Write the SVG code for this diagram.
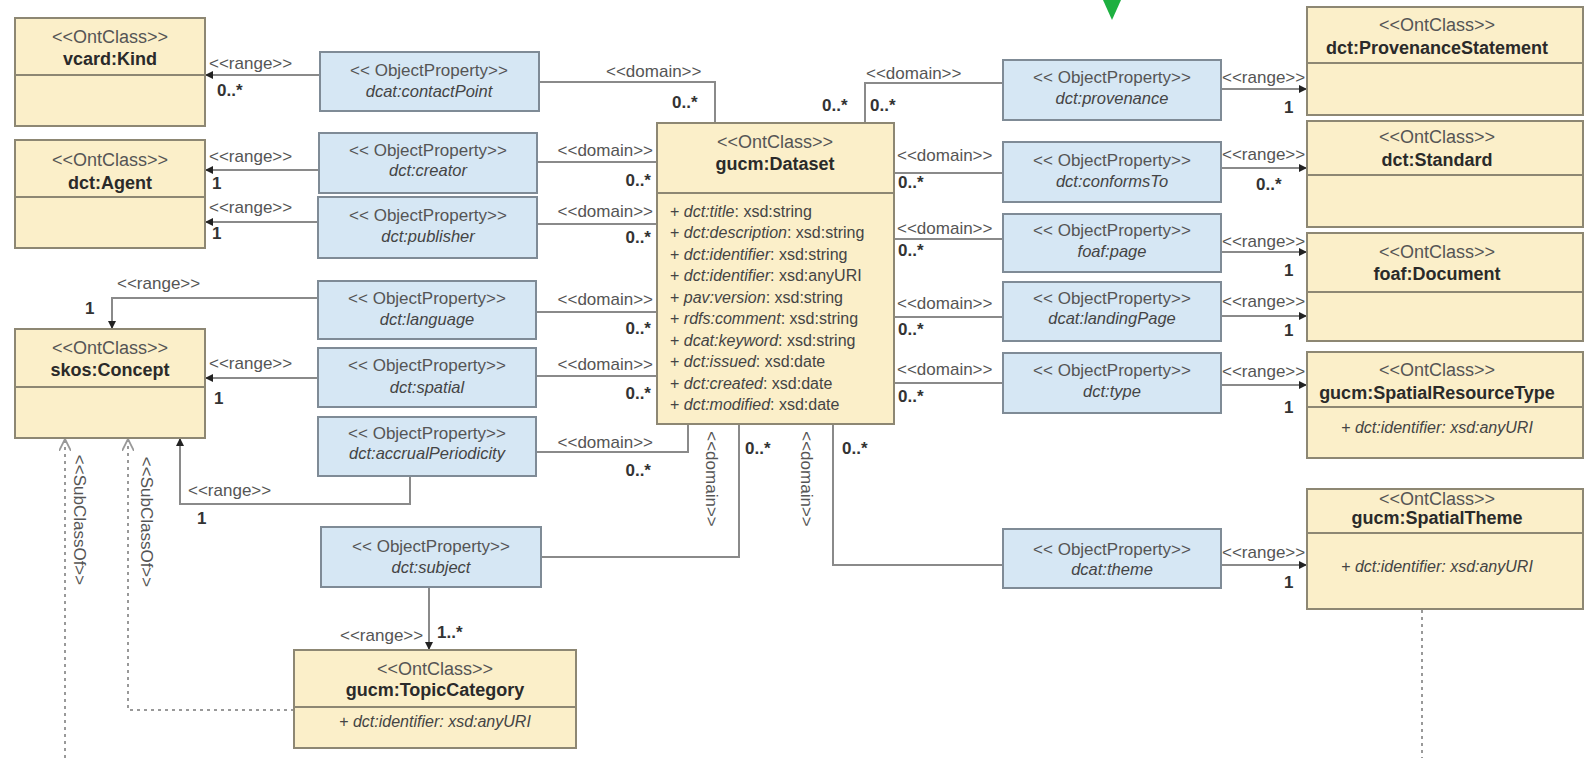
<svg xmlns="http://www.w3.org/2000/svg" width="1584" height="758" viewBox="0 0 1584 758">
<defs>
<style>
.cls{fill:#FBEFC9;stroke:#8D8773;stroke-width:2}
.prop{fill:#D6E7F4;stroke:#7F8B96;stroke-width:2}
.div{stroke:#8D8773;stroke-width:2}
text{font-family:"Liberation Sans",Arial,sans-serif;fill:#333}
.st{font-size:18px;fill:#555;text-anchor:middle}
.ps{font-size:17px;fill:#555;text-anchor:middle}
.nm{font-size:18px;font-weight:bold;text-anchor:middle;fill:#2a2a2a}
.pn{font-size:16.5px;font-style:italic;text-anchor:middle;fill:#444}
.at{font-size:16px;fill:#444}
.at .i{font-style:italic}
.lb{font-size:17px;fill:#555}
.mu{font-size:17px;font-weight:bold;fill:#333}
.ln{fill:none;stroke:#8a8a8a;stroke-width:2}
.dash{fill:none;stroke:#999;stroke-width:2;stroke-dasharray:3 4}
</style>
<marker id="arr" viewBox="0 0 10 10" refX="10" refY="5" markerWidth="8" markerHeight="8" markerUnits="userSpaceOnUse" orient="auto"><path d="M0,0 L10,5 L0,10 z" fill="#222"/></marker>
<marker id="open" viewBox="0 0 10 10" refX="10" refY="5" markerWidth="12" markerHeight="12" markerUnits="userSpaceOnUse" orient="auto"><path d="M0,0 L10,5 L0,10" fill="none" stroke="#999" stroke-width="1.5"/></marker>
</defs>
<rect width="1584" height="758" fill="#fff"/>
<polygon points="1103,0 1121,0 1112,20" fill="#1DB040"/>

<g id="connectors">
<!-- left range -->
<path class="ln" d="M319,75 H205" marker-end="url(#arr)"/>
<path class="ln" d="M319,170 H205" marker-end="url(#arr)"/>
<path class="ln" d="M318,222 H205" marker-end="url(#arr)"/>
<path class="ln" d="M318,298 H112 V329" marker-end="url(#arr)"/>
<path class="ln" d="M318,378 H205" marker-end="url(#arr)"/>
<path class="ln" d="M410,476 V504 H180 V438" marker-end="url(#arr)"/>
<path class="ln" d="M429,587 V650" marker-end="url(#arr)"/>
<!-- left domain -->
<path class="ln" d="M539,82 H715 V123"/>
<path class="ln" d="M537,162 H657"/>
<path class="ln" d="M537,224 H657"/>
<path class="ln" d="M536,312 H657"/>
<path class="ln" d="M536,376 H657"/>
<path class="ln" d="M536,452 H688 V424"/>
<path class="ln" d="M541,557 H739 V424"/>
<!-- right domain -->
<path class="ln" d="M1003,83 H865 V123"/>
<path class="ln" d="M894,173 H1003"/>
<path class="ln" d="M894,239 H1003"/>
<path class="ln" d="M894,317 H1003"/>
<path class="ln" d="M894,383 H1003"/>
<path class="ln" d="M833,424 V565 H1003"/>
<!-- right range -->
<path class="ln" d="M1221,89 H1307" marker-end="url(#arr)"/>
<path class="ln" d="M1221,168 H1307" marker-end="url(#arr)"/>
<path class="ln" d="M1221,252 H1307" marker-end="url(#arr)"/>
<path class="ln" d="M1221,316 H1307" marker-end="url(#arr)"/>
<path class="ln" d="M1221,385 H1307" marker-end="url(#arr)"/>
<path class="ln" d="M1221,565 H1307" marker-end="url(#arr)"/>
<!-- subclass -->
<path class="dash" d="M65,758 V439" marker-end="url(#open)"/>
<path class="dash" d="M294,710 H128 V439" marker-end="url(#open)"/>
<path class="dash" d="M1422,610 V758"/>

<!-- labels -->
<text class="lb" x="209" y="69">&lt;&lt;range&gt;&gt;</text>
<text class="mu" x="217" y="96">0..*</text>
<text class="lb" x="209" y="162">&lt;&lt;range&gt;&gt;</text>
<text class="mu" x="212" y="189">1</text>
<text class="lb" x="209" y="213">&lt;&lt;range&gt;&gt;</text>
<text class="mu" x="212" y="239">1</text>
<text class="lb" x="117" y="289">&lt;&lt;range&gt;&gt;</text>
<text class="mu" x="85" y="314">1</text>
<text class="lb" x="209" y="369">&lt;&lt;range&gt;&gt;</text>
<text class="mu" x="214" y="404">1</text>
<text class="lb" x="188" y="496">&lt;&lt;range&gt;&gt;</text>
<text class="mu" x="197" y="524">1</text>
<text class="lb" x="340" y="641">&lt;&lt;range&gt;&gt;</text>
<text class="mu" x="437" y="638">1..*</text>

<text class="lb" x="606" y="77">&lt;&lt;domain&gt;&gt;</text>
<text class="mu" x="672" y="108">0..*</text>
<text class="lb" x="653" y="156" text-anchor="end">&lt;&lt;domain&gt;&gt;</text>
<text class="mu" x="651" y="186" text-anchor="end">0..*</text>
<text class="lb" x="653" y="217" text-anchor="end">&lt;&lt;domain&gt;&gt;</text>
<text class="mu" x="651" y="243" text-anchor="end">0..*</text>
<text class="lb" x="653" y="305" text-anchor="end">&lt;&lt;domain&gt;&gt;</text>
<text class="mu" x="651" y="334" text-anchor="end">0..*</text>
<text class="lb" x="653" y="370" text-anchor="end">&lt;&lt;domain&gt;&gt;</text>
<text class="mu" x="651" y="399" text-anchor="end">0..*</text>
<text class="lb" x="653" y="448" text-anchor="end">&lt;&lt;domain&gt;&gt;</text>
<text class="mu" x="651" y="476" text-anchor="end">0..*</text>

<text class="lb" x="866" y="79">&lt;&lt;domain&gt;&gt;</text>
<text class="mu" x="822" y="111">0..*</text>
<text class="mu" x="870" y="111">0..*</text>
<text class="lb" x="897" y="161">&lt;&lt;domain&gt;&gt;</text>
<text class="mu" x="898" y="188">0..*</text>
<text class="lb" x="897" y="234">&lt;&lt;domain&gt;&gt;</text>
<text class="mu" x="898" y="256">0..*</text>
<text class="lb" x="897" y="309">&lt;&lt;domain&gt;&gt;</text>
<text class="mu" x="898" y="335">0..*</text>
<text class="lb" x="897" y="375">&lt;&lt;domain&gt;&gt;</text>
<text class="mu" x="898" y="402">0..*</text>

<text class="mu" x="745" y="454">0..*</text>
<text class="mu" x="842" y="454">0..*</text>
<text class="lb" transform="translate(706,479) rotate(90)" text-anchor="middle">&lt;&lt;domain&gt;&gt;</text>
<text class="lb" transform="translate(801,479) rotate(90)" text-anchor="middle">&lt;&lt;domain&gt;&gt;</text>
<text class="lb" transform="translate(74,520) rotate(90)" text-anchor="middle">&lt;&lt;SubClassOf&gt;&gt;</text>
<text class="lb" transform="translate(141,522) rotate(90)" text-anchor="middle">&lt;&lt;SubClassOf&gt;&gt;</text>

<text class="lb" x="1222" y="83">&lt;&lt;range&gt;&gt;</text>
<text class="mu" x="1284" y="113">1</text>
<text class="lb" x="1222" y="160">&lt;&lt;range&gt;&gt;</text>
<text class="mu" x="1256" y="190">0..*</text>
<text class="lb" x="1222" y="247">&lt;&lt;range&gt;&gt;</text>
<text class="mu" x="1284" y="276">1</text>
<text class="lb" x="1222" y="307">&lt;&lt;range&gt;&gt;</text>
<text class="mu" x="1284" y="336">1</text>
<text class="lb" x="1222" y="377">&lt;&lt;range&gt;&gt;</text>
<text class="mu" x="1284" y="413">1</text>
<text class="lb" x="1222" y="558">&lt;&lt;range&gt;&gt;</text>
<text class="mu" x="1284" y="588">1</text>
</g>

<!-- left classes -->
<g id="vcard-kind">
<rect class="cls" x="15" y="18" width="190" height="108"/>
<line class="div" x1="15" y1="75" x2="205" y2="75"/>
<text class="st" x="110" y="43">&lt;&lt;OntClass&gt;&gt;</text>
<text class="nm" x="110" y="65">vcard:Kind</text>
</g>
<g id="dct-agent">
<rect class="cls" x="15" y="140" width="190" height="108"/>
<line class="div" x1="15" y1="197" x2="205" y2="197"/>
<text class="st" x="110" y="166">&lt;&lt;OntClass&gt;&gt;</text>
<text class="nm" x="110" y="189">dct:Agent</text>
</g>
<g id="skos-concept">
<rect class="cls" x="15" y="329" width="190" height="109"/>
<line class="div" x1="15" y1="387" x2="205" y2="387"/>
<text class="st" x="110" y="354">&lt;&lt;OntClass&gt;&gt;</text>
<text class="nm" x="110" y="376">skos:Concept</text>
</g>

<!-- left properties -->
<g id="contactPoint">
<rect class="prop" x="320" y="52" width="219" height="59"/>
<text class="ps" x="429" y="76">&lt;&lt; ObjectProperty&gt;&gt;</text>
<text class="pn" x="429" y="97">dcat:contactPoint</text>
</g>
<g id="creator">
<rect class="prop" x="319" y="133" width="218" height="60"/>
<text class="ps" x="428" y="156">&lt;&lt; ObjectProperty&gt;&gt;</text>
<text class="pn" x="428" y="176">dct:creator</text>
</g>
<g id="publisher">
<rect class="prop" x="318" y="197" width="219" height="61"/>
<text class="ps" x="428" y="221">&lt;&lt; ObjectProperty&gt;&gt;</text>
<text class="pn" x="428" y="242">dct:publisher</text>
</g>
<g id="language">
<rect class="prop" x="318" y="281" width="218" height="58"/>
<text class="ps" x="427" y="304">&lt;&lt; ObjectProperty&gt;&gt;</text>
<text class="pn" x="427" y="325">dct:language</text>
</g>
<g id="spatial">
<rect class="prop" x="318" y="348" width="218" height="59"/>
<text class="ps" x="427" y="371">&lt;&lt; ObjectProperty&gt;&gt;</text>
<text class="pn" x="427" y="393">dct:spatial</text>
</g>
<g id="accrualPeriodicity">
<rect class="prop" x="318" y="417" width="218" height="59"/>
<text class="ps" x="427" y="439">&lt;&lt; ObjectProperty&gt;&gt;</text>
<text class="pn" x="427" y="459">dct:accrualPeriodicity</text>
</g>
<g id="subject">
<rect class="prop" x="321" y="527" width="220" height="60"/>
<text class="ps" x="431" y="552">&lt;&lt; ObjectProperty&gt;&gt;</text>
<text class="pn" x="431" y="573">dct:subject</text>
</g>

<!-- dataset -->
<g id="dataset">
<rect class="cls" x="657" y="123" width="237" height="301"/>
<line class="div" x1="657" y1="193" x2="894" y2="193"/>
<text class="st" x="775" y="148">&lt;&lt;OntClass&gt;&gt;</text>
<text class="nm" x="775" y="170">gucm:Dataset</text>
<text class="at" x="670" y="217">+ <tspan class="i">dct:title</tspan>: xsd:string</text>
<text class="at" x="670" y="238">+ <tspan class="i">dct:description</tspan>: xsd:string</text>
<text class="at" x="670" y="260">+ <tspan class="i">dct:identifier</tspan>: xsd:string</text>
<text class="at" x="670" y="281">+ <tspan class="i">dct:identifier</tspan>: xsd:anyURI</text>
<text class="at" x="670" y="303">+ <tspan class="i">pav:version</tspan>: xsd:string</text>
<text class="at" x="670" y="324">+ <tspan class="i">rdfs:comment</tspan>: xsd:string</text>
<text class="at" x="670" y="346">+ <tspan class="i">dcat:keyword</tspan>: xsd:string</text>
<text class="at" x="670" y="367">+ <tspan class="i">dct:issued</tspan>: xsd:date</text>
<text class="at" x="670" y="389">+ <tspan class="i">dct:created</tspan>: xsd:date</text>
<text class="at" x="670" y="410">+ <tspan class="i">dct:modified</tspan>: xsd:date</text>
</g>

<!-- right properties -->
<g id="provenance">
<rect class="prop" x="1003" y="60" width="218" height="60"/>
<text class="ps" x="1112" y="83">&lt;&lt; ObjectProperty&gt;&gt;</text>
<text class="pn" x="1112" y="104">dct:provenance</text>
</g>
<g id="conformsTo">
<rect class="prop" x="1003" y="142" width="218" height="60"/>
<text class="ps" x="1112" y="166">&lt;&lt; ObjectProperty&gt;&gt;</text>
<text class="pn" x="1112" y="187">dct:conformsTo</text>
</g>
<g id="foaf-page">
<rect class="prop" x="1003" y="214" width="218" height="58"/>
<text class="ps" x="1112" y="236">&lt;&lt; ObjectProperty&gt;&gt;</text>
<text class="pn" x="1112" y="257">foaf:page</text>
</g>
<g id="landingPage">
<rect class="prop" x="1003" y="282" width="218" height="59"/>
<text class="ps" x="1112" y="304">&lt;&lt; ObjectProperty&gt;&gt;</text>
<text class="pn" x="1112" y="324">dcat:landingPage</text>
</g>
<g id="type">
<rect class="prop" x="1003" y="353" width="218" height="60"/>
<text class="ps" x="1112" y="376">&lt;&lt; ObjectProperty&gt;&gt;</text>
<text class="pn" x="1112" y="397">dct:type</text>
</g>
<g id="theme">
<rect class="prop" x="1003" y="529" width="218" height="59"/>
<text class="ps" x="1112" y="555">&lt;&lt; ObjectProperty&gt;&gt;</text>
<text class="pn" x="1112" y="575">dcat:theme</text>
</g>

<!-- right classes -->
<g id="ProvenanceStatement">
<rect class="cls" x="1307" y="7" width="276" height="108"/>
<line class="div" x1="1307" y1="63" x2="1583" y2="63"/>
<text class="st" x="1437" y="31">&lt;&lt;OntClass&gt;&gt;</text>
<text class="nm" x="1437" y="54">dct:ProvenanceStatement</text>
</g>
<g id="Standard">
<rect class="cls" x="1307" y="121" width="276" height="106"/>
<line class="div" x1="1307" y1="175" x2="1583" y2="175"/>
<text class="st" x="1437" y="143">&lt;&lt;OntClass&gt;&gt;</text>
<text class="nm" x="1437" y="166">dct:Standard</text>
</g>
<g id="Document">
<rect class="cls" x="1307" y="233" width="276" height="108"/>
<line class="div" x1="1307" y1="292" x2="1583" y2="292"/>
<text class="st" x="1437" y="258">&lt;&lt;OntClass&gt;&gt;</text>
<text class="nm" x="1437" y="280">foaf:Document</text>
</g>
<g id="SpatialResourceType">
<rect class="cls" x="1307" y="352" width="276" height="106"/>
<line class="div" x1="1307" y1="407" x2="1583" y2="407"/>
<text class="st" x="1437" y="376">&lt;&lt;OntClass&gt;&gt;</text>
<text class="nm" x="1437" y="399">gucm:SpatialResourceType</text>
<text class="at" x="1437" y="433" text-anchor="middle">+ <tspan class="i">dct:identifier: xsd:anyURI</tspan></text>
</g>
<g id="SpatialTheme">
<rect class="cls" x="1307" y="489" width="276" height="120"/>
<line class="div" x1="1307" y1="533" x2="1583" y2="533"/>
<text class="st" x="1437" y="505">&lt;&lt;OntClass&gt;&gt;</text>
<text class="nm" x="1437" y="524">gucm:SpatialTheme</text>
<text class="at" x="1437" y="572" text-anchor="middle">+ <tspan class="i">dct:identifier: xsd:anyURI</tspan></text>
</g>
<g id="TopicCategory">
<rect class="cls" x="294" y="650" width="282" height="98"/>
<line class="div" x1="294" y1="707" x2="576" y2="707"/>
<text class="st" x="435" y="675">&lt;&lt;OntClass&gt;&gt;</text>
<text class="nm" x="435" y="696">gucm:TopicCategory</text>
<text class="at" x="435" y="727" text-anchor="middle">+ <tspan class="i">dct:identifier: xsd:anyURI</tspan></text>
</g>
</svg>
